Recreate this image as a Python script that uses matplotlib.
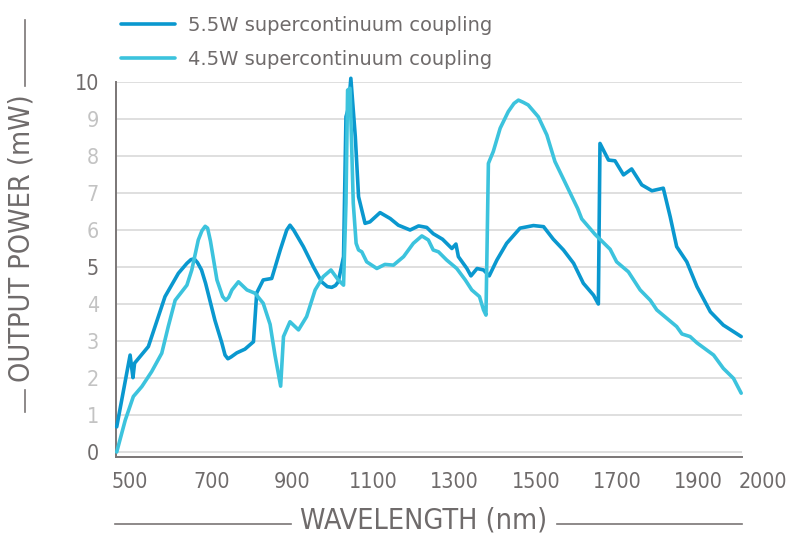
import matplotlib
matplotlib.use("Agg")
import matplotlib.pyplot as plt
from matplotlib.lines import Line2D
from matplotlib import font_manager as fm

# wavelength (nm) / output power (mW)
wl_55 = [467, 500, 507, 511, 545, 586, 619, 640, 650, 658, 666, 676, 686, 709, 726,
         734, 741, 749, 763, 783, 804, 812, 828, 849, 870, 886, 894, 903, 927, 952,
         972, 986, 997, 1006, 1013, 1026, 1032, 1038, 1044, 1055, 1063, 1079, 1091,
         1116, 1141, 1161, 1190, 1211, 1231, 1247, 1270, 1293, 1303, 1309, 1330, 1340,
         1355, 1371, 1385, 1404, 1428, 1461, 1494, 1519, 1543, 1568, 1593, 1617, 1642,
         1654, 1658, 1679, 1695, 1716, 1736, 1761, 1786, 1814, 1831, 1847, 1872, 1897,
         1930, 1962, 2006]
pw_55 = [0.68, 2.62, 2.01, 2.4, 2.85, 4.2, 4.83, 5.1, 5.2, 5.22, 5.12, 4.92, 4.56,
         3.56, 2.95, 2.62, 2.52, 2.57, 2.68, 2.78, 2.98, 4.3, 4.65, 4.69, 5.46, 6.0,
         6.13, 6.0, 5.55, 5.0, 4.6, 4.47, 4.45, 4.5, 4.6, 5.28, 9.06, 9.29, 10.1, 8.52,
         6.9, 6.18, 6.22, 6.47, 6.31, 6.13, 6.0, 6.11, 6.07, 5.9, 5.75, 5.5, 5.62, 5.28,
         4.96, 4.76, 4.96, 4.92, 4.76, 5.19, 5.64, 6.05, 6.12, 6.09, 5.75, 5.46, 5.1,
         4.56, 4.24, 4.0, 8.34, 7.89, 7.87, 7.49, 7.65, 7.22, 7.06, 7.13, 6.36, 5.55,
         5.14, 4.47, 3.79, 3.43, 3.12]

wl_45 = [467, 488, 508, 529, 553, 578, 594, 611, 640, 652, 668, 677, 685, 691, 698,
         714, 728, 736, 743, 751, 767, 788, 808, 828, 845, 857, 871, 878, 894, 915, 935,
         956, 976, 995, 1013, 1026, 1032, 1036, 1042, 1050, 1057, 1063, 1071, 1083,
         1108, 1128, 1149, 1174, 1198, 1219, 1235, 1247, 1260, 1280, 1305, 1326, 1342,
         1361, 1371, 1377, 1383, 1395, 1412, 1432, 1446, 1457, 1469, 1481, 1506, 1527,
         1547, 1570, 1603, 1613, 1646, 1683, 1699, 1728, 1757, 1782, 1798, 1847, 1860,
         1880, 1897, 1938, 1962, 1987, 2006]
pw_45 = [0.0, 0.86, 1.5, 1.77, 2.17, 2.67, 3.39, 4.1, 4.51, 4.92, 5.73, 5.98, 6.1,
         6.05, 5.7, 4.65, 4.2, 4.1, 4.18, 4.38, 4.6, 4.38, 4.29, 4.02, 3.45, 2.62, 1.78,
         3.12, 3.52, 3.3, 3.66, 4.38, 4.74, 4.92, 4.65, 4.51, 6.73, 9.78, 9.83, 6.72,
         5.64, 5.46, 5.41, 5.14, 4.96, 5.07, 5.05, 5.28, 5.64, 5.84, 5.73, 5.46, 5.41,
         5.19, 4.96, 4.65, 4.38, 4.2, 3.84, 3.7, 7.8, 8.12, 8.75, 9.2, 9.42, 9.51, 9.45,
         9.38, 9.06, 8.57, 7.85, 7.33, 6.58, 6.3, 5.88, 5.48, 5.14, 4.87, 4.38, 4.1,
         3.84, 3.39, 3.19, 3.12, 2.95, 2.62, 2.26, 1.99, 1.59]

series = ["5.5W supercontinuum coupling", "4.5W supercontinuum coupling"]
colors = ["#0a98cf", "#3cc3dd"]
x_ticks = [500, 700, 900, 1100, 1300, 1500, 1700, 1900, 2000]
y_ticks = list(range(0, 11))

text_gray = "#6f6b6b"
light_gray = "#c3c3c3"
rule_gray = "#7a7676"
W, H = 788, 533


def pick_narrow():
    # first condensed face that is really installed, else Roboto
    for fam, st in [("Liberation Sans Narrow", "normal"), ("DejaVu Sans", "condensed"),
                    ("Roboto Condensed", "normal"), ("Open Sans", "condensed"),
                    ("Roboto", "normal")]:
        try:
            path = fm.findfont(fm.FontProperties(family=fam, stretch=st),
                               fallback_to_default=False)
        except ValueError:
            continue
        if st == "condensed" and "ondensed" not in path:
            continue
        return fam, st
    return "DejaVu Sans", "normal"


nfam, nstretch = pick_narrow()

fig = plt.figure(figsize=(7.88, 5.33), dpi=100)
renderer = fig.canvas.get_renderer()


def size_for(s, target_w, family, stretch="normal"):
    t = fig.text(0, 0, s, family=family, stretch=stretch, fontsize=20)
    w = t.get_window_extent(renderer).width
    t.remove()
    return 20 * target_w / w


ax = fig.add_axes([115.5 / W, 1 - 457 / H, (742 - 115.5) / W, (457 - 82) / H])

for wl, pw, c, lab in zip([wl_55, wl_45], [pw_55, pw_45], colors, series):
    ax.plot(wl, pw, color=c, lw=2.6, label=lab, clip_on=False,
            solid_joinstyle="round", solid_capstyle="round", zorder=3)

ax.set_xlim(464, 2008)
ax.set_ylim(-0.135, 10)
ax.set_yticks(y_ticks)
ax.set_xticks(x_ticks)
ax.yaxis.grid(True, color="#dcdcdc", lw=1.3)
ax.set_axisbelow(True)
for s in ["top", "right"]:
    ax.spines[s].set_visible(False)
for s in ["left", "bottom"]:
    ax.spines[s].set_color(rule_gray)
    ax.spines[s].set_linewidth(1.4)

tick_size = size_for("1100", 49, nfam, nstretch)
ax.tick_params(axis="x", length=0, pad=11)
ax.tick_params(axis="y", length=0, pad=12)

for lbl, v in zip(ax.get_yticklabels(), y_ticks):
    lbl.set_family(nfam)
    lbl.set_stretch(nstretch)
    lbl.set_fontsize(tick_size)
    lbl.set_color(text_gray if v % 5 == 0 else light_gray)
for lbl, v in zip(ax.get_xticklabels(), x_ticks):
    lbl.set_family(nfam)
    lbl.set_stretch(nstretch)
    lbl.set_fontsize(tick_size)
    lbl.set_color(text_gray)
    if v == 2000:
        lbl.set_horizontalalignment("left")

# axis titles with rules either side
title_size = size_for("WAVELENGTH (nm)", 248, nfam, nstretch)
xt = fig.text(424 / W, 1 - 520 / H, "WAVELENGTH (nm)", family=nfam, stretch=nstretch,
              fontsize=title_size, color=text_gray, ha="center", va="center")
bb = xt.get_window_extent(renderer)
fig.add_artist(Line2D([115 / W, (bb.x0 - 9) / W], [1 - 524 / H] * 2, color=rule_gray, lw=1.2))
fig.add_artist(Line2D([(bb.x1 + 9) / W, 742 / W], [1 - 524 / H] * 2, color=rule_gray, lw=1.2))

yt = fig.text(22 / W, 1 - 238 / H, "OUTPUT POWER (mW)", family=nfam, stretch=nstretch,
              fontsize=title_size, color=text_gray, ha="center", va="center", rotation=90)
bb = yt.get_window_extent(renderer)
fig.add_artist(Line2D([25 / W] * 2, [1 - 20 / H, (bb.y1 + 8) / H], color=rule_gray, lw=1.2))
fig.add_artist(Line2D([25 / W] * 2, [(bb.y0 - 8) / H, (bb.y0 - 30) / H], color=rule_gray, lw=1.2))

leg_size = size_for(series[0], 304, "DejaVu Sans")
fig.legend(loc="upper left", bbox_to_anchor=(103 / W, 1 + 2 / H), frameon=False,
           handlelength=2.8, handletextpad=0.65, labelspacing=0.8,
           labelcolor=text_gray, prop={"family": "DejaVu Sans", "size": leg_size})

fig.savefig("out.png", dpi=100)
